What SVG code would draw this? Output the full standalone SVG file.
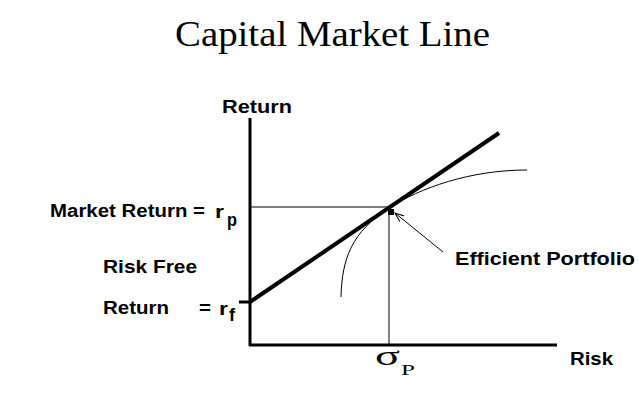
<svg xmlns="http://www.w3.org/2000/svg" width="638" height="408" viewBox="0 0 638 408">
<style>
.lbl{font-family:"Liberation Sans",Arial,sans-serif;font-weight:bold;font-size:18px;fill:#000}
.ser{font-family:"Liberation Serif","Times New Roman",serif;fill:#000}
.ax{stroke:#000;stroke-width:3;fill:none}
.thin{stroke:#000;stroke-width:1;fill:none}
</style>
<defs>
<marker id="arr" markerWidth="10" markerHeight="8" refX="9" refY="4" orient="auto" markerUnits="userSpaceOnUse">
<path d="M0,0.5 L9,4 L0,7.5" fill="none" stroke="#000" stroke-width="1"/>
</marker>
</defs>
<rect width="638" height="408" fill="#fff"/>
<text class="ser" x="175" y="46" font-size="35" textLength="315" lengthAdjust="spacingAndGlyphs">Capital Market Line</text>
<g id="connectors">
<path class="ax" d="M250,118 V346"/>
<path class="ax" d="M249,345 H557"/>
<path class="ax" d="M239,302 H250"/>
<path d="M250,302 L499,133" stroke="#000" stroke-width="4" fill="none"/>
<path class="thin" d="M250,207 H389"/>
<path class="thin" d="M389,207 V345"/>
<path class="thin" d="M341,297 C342,258 352,232 389,208 C420,188 470,170 527,170"/>
<path class="thin" d="M443,252 L395,213" marker-end="url(#arr)"/>
</g>
<g id="portfolio-point"><rect x="388" y="209" width="6" height="6" fill="#000"/></g>
<g id="axis-return"><text class="lbl" x="222" y="113" textLength="70" lengthAdjust="spacingAndGlyphs">Return</text></g>
<g id="axis-risk"><text class="lbl" x="570" y="365" textLength="43" lengthAdjust="spacingAndGlyphs">Risk</text></g>
<g id="market-return">
<text class="lbl" x="50" y="217" textLength="155" lengthAdjust="spacingAndGlyphs">Market Return =</text>
<text class="lbl" x="215" y="218" font-size="28" textLength="9" lengthAdjust="spacingAndGlyphs">r</text>
<text class="lbl" x="227" y="226" font-size="14" textLength="10" lengthAdjust="spacingAndGlyphs">p</text>
</g>
<g id="risk-free">
<text class="lbl" x="103" y="273" textLength="94" lengthAdjust="spacingAndGlyphs">Risk Free</text>
<text class="lbl" x="103" y="314" textLength="66" lengthAdjust="spacingAndGlyphs">Return</text>
<text class="lbl" x="199" y="314" textLength="12" lengthAdjust="spacingAndGlyphs">=</text>
<text class="lbl" x="219" y="315" font-size="28" textLength="9" lengthAdjust="spacingAndGlyphs">r</text>
<text class="lbl" x="229" y="321" font-size="14" textLength="6" lengthAdjust="spacingAndGlyphs">f</text>
</g>
<g id="efficient-portfolio"><text class="lbl" x="455" y="265" textLength="180" lengthAdjust="spacingAndGlyphs">Efficient Portfolio</text></g>
<g id="sigma-p">
<text class="ser" x="375" y="365" font-size="28" textLength="25" lengthAdjust="spacingAndGlyphs">σ</text>
<text class="ser" x="401" y="375" font-size="15" textLength="14" lengthAdjust="spacingAndGlyphs">P</text>
</g>
</svg>
